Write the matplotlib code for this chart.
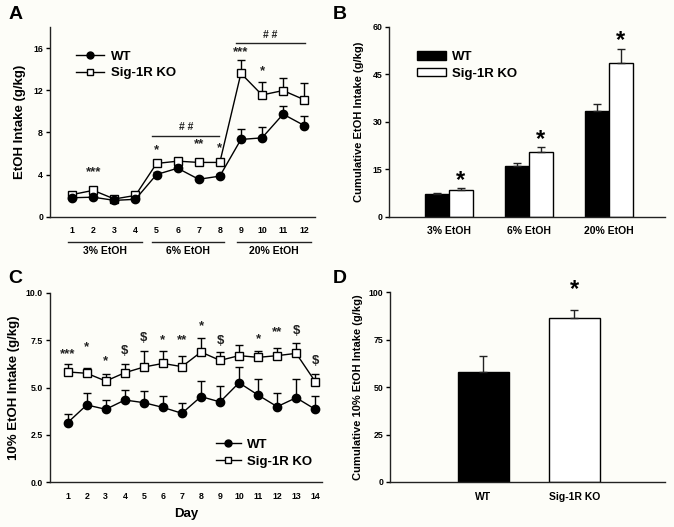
import matplotlib
matplotlib.use("Agg")
import matplotlib.pyplot as plt
from matplotlib.lines import Line2D
import numpy as np

plt.rcParams['font.family'] = ['Liberation Sans', 'DejaVu Sans']
plt.rcParams['font.weight'] = 'bold'

# ---------------- Panel A data ----------------
days_a = [1, 2, 3, 4, 5, 6, 7, 8, 9, 10, 11, 12]
wt_a = [1.8, 1.85, 1.55, 1.65, 4.0, 4.6, 3.55, 3.85, 7.33, 7.48, 9.73, 8.65]
wt_a_err = [0.15, 0.15, 0.1, 0.1, 0.2, 0.2, 0.2, 0.2, 0.98, 1.0, 0.76, 0.88]
ko_a = [2.1, 2.5, 1.68, 2.02, 5.05, 5.27, 5.15, 5.15, 13.6, 11.55, 11.97, 11.1]
ko_a_err = [0.15, 0.15, 0.1, 0.1, 0.2, 0.2, 0.2, 0.2, 1.27, 1.23, 1.17, 1.55]
sig_a_x = [2, 5, 7, 8, 9, 10]
sig_a_y = [4.2, 6.3, 6.9, 6.5, 15.6, 13.8]
sig_a_txt = ['***', '*', '**', '*', '***', '*']
conc_labels = ['3% EtOH', '6% EtOH', '20% EtOH']

# ---------------- Panel B data ----------------
wt_b = [7.05, 16.1, 33.4]
wt_b_err = [0.35, 0.95, 2.3]
ko_b = [8.4, 20.5, 48.4]
ko_b_err = [0.55, 1.4, 4.5]

# ---------------- Panel C data ----------------
days_c = list(range(1, 15))
wt_c = [3.15, 4.08, 3.85, 4.34, 4.2, 3.95, 3.64, 4.52, 4.24, 5.25, 4.6, 3.99, 4.46, 3.85]
wt_c_err = [0.45, 0.63, 0.49, 0.53, 0.63, 0.6, 0.53, 0.8, 0.84, 0.85, 0.85, 0.7, 1.0, 0.7]
ko_c = [5.82, 5.75, 5.34, 5.78, 6.08, 6.27, 6.1, 6.87, 6.43, 6.68, 6.59, 6.68, 6.8, 5.31]
ko_c_err = [0.4, 0.3, 0.35, 0.44, 0.84, 0.65, 0.58, 0.72, 0.46, 0.56, 0.35, 0.42, 0.53, 0.4]
sig_c_x = [1, 2, 3, 4, 5, 6, 7, 8, 9, 11, 12, 13, 14]
sig_c_y = [6.77, 7.12, 6.41, 6.92, 7.6, 7.5, 7.47, 8.24, 7.47, 7.56, 7.94, 7.98, 6.4]
sig_c_txt = ['***', '*', '*', '$', '$', '*', '**', '*', '$', '*', '**', '$', '$']

# ---------------- Panel D data ----------------
groups_d = ['WT', 'Sig-1R KO']
vals_d = [58.0, 86.6]
errs_d = [8.4, 4.1]

bg = '#fdfdf8'
fig = plt.figure(figsize=(6.74, 5.27), dpi=100, facecolor=bg)
TICK = 6.3


def style(ax):
    ax.set_facecolor(bg)
    for s in ['top', 'right']:
        ax.spines[s].set_visible(False)
    for s in ['left', 'bottom']:
        ax.spines[s].set_linewidth(1.0)
        ax.spines[s].set_color('#222222')
    ax.tick_params(axis='y', direction='out', length=3, width=1, labelsize=TICK, pad=2)
    ax.tick_params(axis='x', length=0, labelsize=TICK, pad=7)
    for lab in ax.get_xticklabels() + ax.get_yticklabels():
        lab.set_fontweight('bold')


def line_handles():
    return [Line2D([], [], color='black', marker='o', mfc='black', mec='black', ms=5, lw=1),
            Line2D([], [], color='black', marker='s', mfc='white', mec='black', ms=4.5, lw=1)]


# ---------------- Panel A ----------------
axA = fig.add_axes([0.0742, 0.5888, 0.3928, 0.36])
axA.errorbar(days_a, ko_a, yerr=[np.zeros(len(ko_a)), ko_a_err], color='black',
             marker='s', mfc='white', mec='black', ms=6, lw=1.0, capsize=3,
             elinewidth=1.0, capthick=1.0, zorder=3)
axA.errorbar(days_a, wt_a, yerr=[np.zeros(len(wt_a)), wt_a_err], color='black',
             marker='o', mfc='black', mec='black', ms=6, lw=1.0, capsize=3,
             elinewidth=1.0, capthick=1.0, zorder=4)
axA.set_xlim(-0.05, 12.5)
axA.set_ylim(0, 18)
axA.set_yticks([0, 4, 8, 12, 16])
axA.set_xticks(days_a)
axA.set_ylabel('EtOH Intake (g/kg)', fontsize=9.5, fontweight='bold', labelpad=5)
style(axA)
for x, y, t in zip(sig_a_x, sig_a_y, sig_a_txt):
    axA.text(x, y, t, ha='center', va='center', fontsize=9.5, color='#222222')
axA.plot([4.78, 7.96], [7.67, 7.67], color='#222222', lw=1)
axA.text(6.4, 8.5, '# #', ha='center', va='center', fontsize=7.5, color='#222222')
axA.plot([8.77, 12.04], [16.5, 16.5], color='#222222', lw=1, clip_on=False)
axA.text(10.4, 17.2, '# #', ha='center', va='center', fontsize=7.5, color='#222222', clip_on=False)
for (x0, x1), lab in zip([(0.8, 4.3), (4.77, 8.2), (8.8, 12.33)], conc_labels):
    axA.plot([x0, x1], [-2.4, -2.4], color='#222222', lw=1, clip_on=False)
    axA.text((x0 + x1) / 2, -3.3, lab, ha='center', va='center', fontsize=7.5,
             fontweight='bold')
axA.legend(line_handles(), ['WT', 'Sig-1R KO'], loc='upper left',
           bbox_to_anchor=(0.08, 0.905), frameon=False,
           prop={'size': 9.5, 'weight': 'bold'}, handlelength=2.1, borderaxespad=0,
           labelspacing=0.35, handletextpad=0.5)

# ---------------- Panel B ----------------
axB = fig.add_axes([0.5776, 0.5888, 0.409, 0.3605])
xb = np.arange(len(conc_labels))
w = 0.3
axB.bar(xb - w / 2, wt_b, w, color='black', edgecolor='black', lw=1, label='WT',
        yerr=[np.zeros(3), wt_b_err], capsize=3, error_kw=dict(lw=1, capthick=1, ecolor='#222222'))
axB.bar(xb + w / 2, ko_b, w, color='white', edgecolor='black', lw=1, label='Sig-1R KO',
        yerr=[np.zeros(3), ko_b_err], capsize=3, error_kw=dict(lw=1, capthick=1, ecolor='#222222'))
for x, v, e in zip(xb, ko_b, ko_b_err):
    axB.text(x + w / 2, v + e + 2.6, '*', ha='center', va='center', fontsize=17,
             fontweight='bold')
axB.set_xlim(-0.746, 2.7)
axB.set_ylim(0, 60)
axB.set_yticks([0, 15, 30, 45, 60])
axB.set_xticks(xb)
axB.set_xticklabels(conc_labels)
axB.set_ylabel('Cumulative EtOH Intake (g/kg)', fontsize=8, fontweight='bold', labelpad=6)
style(axB)
axB.tick_params(axis='x', labelsize=7.5)
axB.legend(loc='upper left', bbox_to_anchor=(0.08, 0.9), frameon=False,
           prop={'size': 9.5, 'weight': 'bold'}, handlelength=2.2, handleheight=0.6,
           borderaxespad=0, labelspacing=0.35, handletextpad=0.5)

# ---------------- Panel C ----------------
axC = fig.add_axes([0.0742, 0.0848, 0.4031, 0.3598])
axC.errorbar(days_c, ko_c, yerr=[np.zeros(14), ko_c_err], color='black',
             marker='s', mfc='white', mec='black', ms=6, lw=1.0, capsize=3,
             elinewidth=1.0, capthick=1.0, zorder=3)
axC.errorbar(days_c, wt_c, yerr=[np.zeros(14), wt_c_err], color='black',
             marker='o', mfc='black', mec='black', ms=6, lw=1.0, capsize=3,
             elinewidth=1.0, capthick=1.0, zorder=4)
axC.set_xlim(0.07, 14.34)
axC.set_ylim(0, 10)
axC.set_yticks([0, 2.5, 5, 7.5, 10])
axC.set_yticklabels(['0.0', '2.5', '5.0', '7.5', '10.0'])
axC.set_xticks(days_c)
axC.set_ylabel('10% EtOH Intake (g/kg)', fontsize=9.5, fontweight='bold', labelpad=4)
axC.set_xlabel('Day', fontsize=9.5, fontweight='bold', labelpad=5)
style(axC)
for x, y, t in zip(sig_c_x, sig_c_y, sig_c_txt):
    axC.text(x, y, t, ha='center', va='center', fontsize=9.5, color='#222222')
axC.legend(line_handles(), ['WT', 'Sig-1R KO'], loc='lower right',
           bbox_to_anchor=(0.985, 0.05), frameon=False,
           prop={'size': 9.5, 'weight': 'bold'}, handlelength=1.9, borderaxespad=0,
           labelspacing=0.35, handletextpad=0.5)

# ---------------- Panel D ----------------
axD = fig.add_axes([0.5786, 0.0854, 0.408, 0.36])
xd = np.arange(len(groups_d))
axD.bar(xd, vals_d, 0.56, color=['black', 'white'], edgecolor='black', lw=1,
        yerr=[np.zeros(2), errs_d], capsize=3, error_kw=dict(lw=1, capthick=1, ecolor='#222222'))
axD.text(xd[1], vals_d[1] + errs_d[1] + 10.5, '*', ha='center', va='center', fontsize=17,
         fontweight='bold', clip_on=False)
axD.set_xlim(-1.03, 2.0)
axD.set_ylim(0, 100)
axD.set_yticks([0, 25, 50, 75, 100])
axD.set_xticks(xd)
axD.set_xticklabels(groups_d)
axD.set_ylabel('Cumulative 10% EtOH Intake (g/kg)', fontsize=8, fontweight='bold', labelpad=4)
style(axD)
axD.tick_params(axis='x', labelsize=7.5)

# Panel letters
for x, y, t in [(0.012, 0.972, 'A'), (0.494, 0.972, 'B'), (0.012, 0.472, 'C'), (0.494, 0.472, 'D')]:
    fig.text(x, y, t, fontsize=14, fontweight='bold', ha='left', va='center')

fig.savefig('out.png', dpi=100, facecolor=bg)
